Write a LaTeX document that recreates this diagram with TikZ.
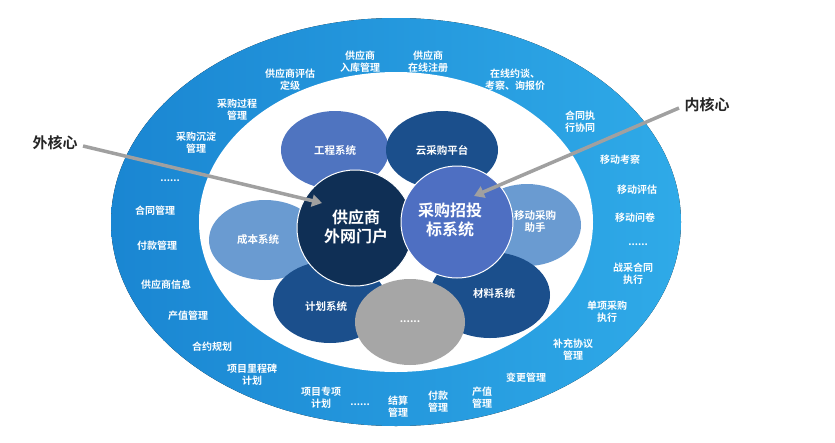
\documentclass[tikz,border=0pt]{standalone}
\usepackage{fontspec}
\newfontfamily\cjk{Noto Sans CJK SC}[BoldFont={Noto Sans CJK SC Bold}]
\usetikzlibrary{arrows.meta}
\definecolor{ringL}{HTML}{1A86D2}
\definecolor{ringR}{HTML}{2FAAE8}
\definecolor{bmid}{HTML}{4F74C0}
\definecolor{bdark}{HTML}{1B4F8C}
\definecolor{blight}{HTML}{6A9BD1}
\definecolor{bnavy}{HTML}{0F2F55}
\definecolor{bcai}{HTML}{4E6FC2}
\definecolor{bgray}{HTML}{A6A6A6}
\definecolor{arr}{HTML}{A0A0A0}
\begin{document}
\begin{tikzpicture}[x=1pt,y=-1pt,
 lab/.style={font=\cjk\bfseries\fontsize{10}{12}\selectfont,text=white,align=center,inner sep=0pt},
 blab/.style={font=\cjk\bfseries\fontsize{10.5}{12}\selectfont,text=white,align=center},
 clab/.style={font=\cjk\bfseries\fontsize{16}{19}\selectfont,text=white,align=center},
 bub/.style={draw=white,line width=1pt},
 core/.style={font=\cjk\bfseries\fontsize{15}{18}\selectfont,text=black!85},
 garrow/.style={draw=arr,line width=3.5pt,-{Triangle[length=10pt,width=12pt]}}]
\useasboundingbox (0,0) rectangle (835,442);
\fill[left color=ringL,right color=ringR] (396,222) ellipse [x radius=285,y radius=204];
\fill[white] (396,222) ellipse [x radius=197,y radius=150];
% bubbles
\fill[bmid] (335,150) ellipse [x radius=54,y radius=39]; \node[blab] (gc) at (335,150) {工程系统};
\fill[bdark] (442,150) ellipse [x radius=56,y radius=39]; \node[blab] (yc) at (442,150) {云采购平台};
\fill[blight] (265,240) ellipse [x radius=56,y radius=40]; \node[blab] (cb) at (258,240) {成本系统};
\fill[blight] (527,225) ellipse [x radius=54,y radius=41]; \node[blab] (yd) at (535,222) {移动采购\\助手};
\fill[bdark] (330,302) ellipse [x radius=57,y radius=41]; \node[blab] (jh) at (326,306) {计划系统};
\fill[bdark] (490,295) ellipse [x radius=60,y radius=43]; \node[blab] (cl) at (494,293) {材料系统};
\fill[bgray] (410,322) ellipse [x radius=55,y radius=43]; \node[blab] (dd) at (410,322) {......};
\filldraw[bub,fill=bnavy] (355,228) circle (58); \node[clab] (gys) at (356,227) {供应商\\外网门户};
\filldraw[bub,fill=bcai] (457,222) circle (56); \node[clab] (cg) at (450,220) {采购招投\\标系统};
% ring labels
\node[lab] (l1) at (290,80) {供应商评估\\定级};
\node[lab] (l2) at (360,62) {供应商\\入库管理};
\node[lab] (l3) at (428,62) {供应商\\在线注册};
\node[lab] (l4) at (515,80) {在线约谈、\\考察、询报价};
\node[lab] (l5) at (237,110) {采购过程\\管理};
\node[lab] (l6) at (196,143) {采购沉淀\\管理};
\node[lab] (l7) at (170,181) {......};
\node[lab] (l8) at (155,211) {合同管理};
\node[lab] (l9) at (157,246) {付款管理};
\node[lab] (l10) at (166,285) {供应商信息};
\node[lab] (l11) at (188,316) {产值管理};
\node[lab] (l12) at (212,347) {合约规划};
\node[lab] (l13) at (252,375) {项目里程碑\\计划};
\node[lab] (l14) at (321,398) {项目专项\\计划};
\node[lab] (l15) at (360,405) {......};
\node[lab] (l16) at (398,407) {结算\\管理};
\node[lab] (l17) at (438,402) {付款\\管理};
\node[lab] (l18) at (482,398) {产值\\管理};
\node[lab] (l19) at (526,378) {变更管理};
\node[lab] (l20) at (573,350) {补充协议\\管理};
\node[lab] (l21) at (607,312) {单项采购\\执行};
\node[lab] (l22) at (633,274) {战采合同\\执行};
\node[lab] (l23) at (638,245) {......};
\node[lab] (l24) at (635,218) {移动问卷};
\node[lab] (l25) at (637,190) {移动评估};
\node[lab] (l26) at (620,160) {移动考察};
\node[lab] (l27) at (580,122) {合同执\\行协同};
% core labels and arrows
\node[core] (wh) at (55,143) {外核心};
\node[core] (nh) at (707,105) {内核心};
\coordinate (wt) at (322,203);
\coordinate (nt) at (474,196);
\draw[garrow] (wh.east) ++(2,3) -- (wt);
\draw[garrow] (nh.west) ++(-2,3) -- (nt);
\end{tikzpicture}
\end{document}
